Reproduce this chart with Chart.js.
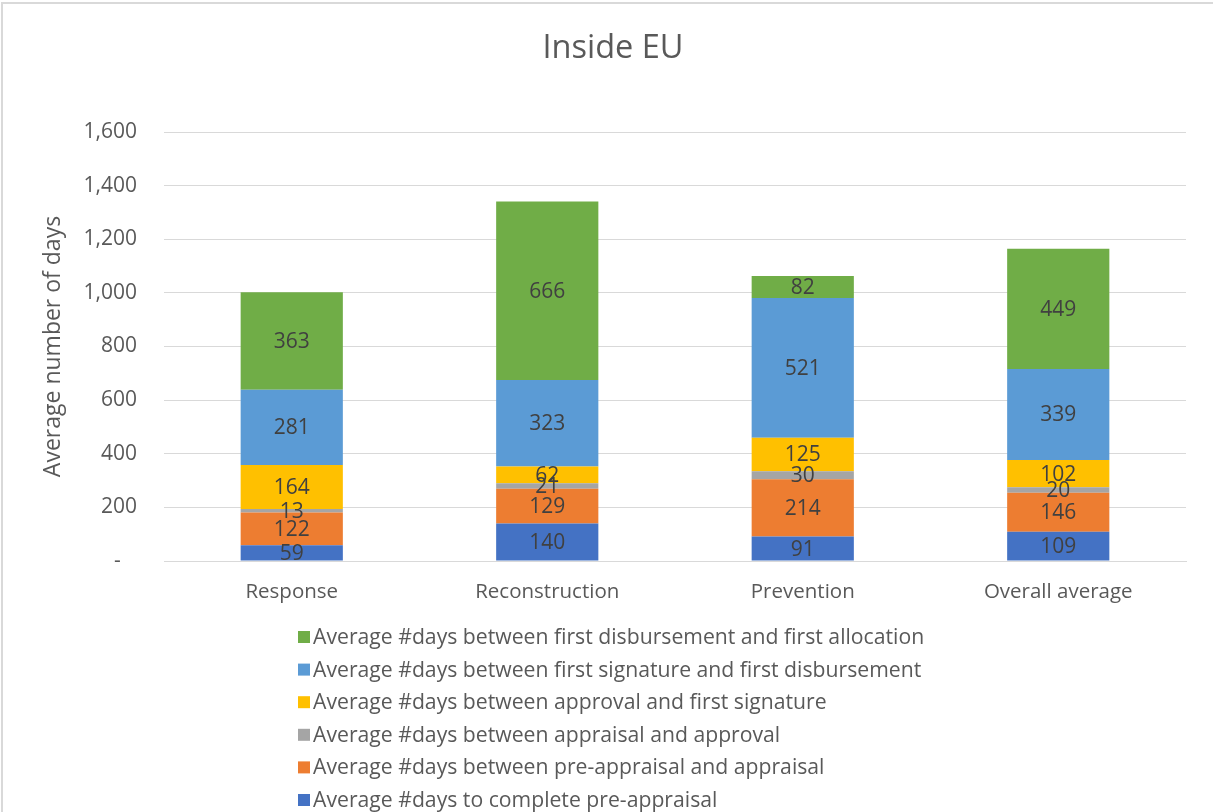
<!DOCTYPE html>
<html>
<head>
<meta charset="utf-8">
<title>Inside EU</title>
<script src="https://cdn.jsdelivr.net/npm/chart.js@4.4.1/dist/chart.umd.min.js"></script>
<style>
  html, body { margin: 0; padding: 0; background: #fff; }
  .frame {
    position: absolute; left: 1px; top: 2px; width: 1212px; height: 810px;
    border-top: 2px solid #d9d9d9; border-left: 2px solid #d9d9d9;
    pointer-events: none;
  }
  #chart { position: absolute; left: 0; top: 0; }
</style>
</head>
<body>
<canvas id="chart" width="1213" height="812"></canvas>
<div class="frame"></div>
<script>
const categories = ['Response', 'Reconstruction', 'Prevention', 'Overall average'];

const preAppraisal = [59, 140, 91, 109];
const preToAppraisal = [122, 129, 214, 146];
const appraisalToApproval = [13, 21, 30, 20];
const approvalToSignature = [164, 62, 125, 102];
const signatureToDisbursement = [281, 323, 521, 339];
const disbursementToAllocation = [363, 666, 82, 449];

// Excel accounting style: zero shows as a dash
const yTickLabels = ['-   ', '200', '400', '600', '800', '1,000', '1,200', '1,400', '1,600'];

const seriesNames = [
  'Average #days to complete pre-appraisal',
  'Average #days between pre-appraisal and appraisal',
  'Average #days between appraisal and approval',
  'Average #days between approval and first signature',
  'Average #days between first signature and first disbursement',
  'Average #days between first disbursement and first allocation'
];
const seriesColors = ['#4472C4', '#ED7D31', '#A5A5A5', '#FFC000', '#5B9BD5', '#70AD47'];
const seriesValues = [preAppraisal, preToAppraisal, appraisalToApproval, approvalToSignature, signatureToDisbursement, disbursementToAllocation];

const FONT = '"Open Sans", Lato, sans-serif';

// value labels in the middle of each segment
const segmentLabels = {
  id: 'segmentLabels',
  afterDatasetsDraw(chart) {
    const ctx = chart.ctx;
    ctx.save();
    ctx.font = '21px ' + FONT;
    ctx.fillStyle = '#404040';
    ctx.textAlign = 'center';
    ctx.textBaseline = 'middle';
    chart.data.datasets.forEach((ds, i) => {
      chart.getDatasetMeta(i).data.forEach((bar, j) => {
        ctx.fillText(String(ds.data[j]), bar.x, (bar.y + bar.base) / 2 + 1);
      });
    });
    ctx.restore();
  }
};

// vertical legend, top entry = last series (like Excel)
const stackedLegend = {
  id: 'stackedLegend',
  afterDraw(chart) {
    const ctx = chart.ctx;
    const x0 = 298, y0 = 637, rowH = 32.6, box = 12;
    ctx.save();
    ctx.font = '21.2px ' + FONT;
    ctx.textBaseline = 'middle';
    ctx.textAlign = 'left';
    const sets = chart.data.datasets.slice().reverse();
    sets.forEach((ds, i) => {
      const y = y0 + i * rowH;
      ctx.fillStyle = ds.backgroundColor;
      ctx.fillRect(x0, y - box / 2, box, box);
      ctx.fillStyle = '#595959';
      ctx.fillText(ds.label, x0 + box + 3, y + 1);
    });
    ctx.restore();
  }
};

const ctx = document.getElementById('chart').getContext('2d');

new Chart(ctx, {
  type: 'bar',
  data: {
    labels: categories,
    datasets: seriesNames.map((name, i) => ({
      label: name,
      data: seriesValues[i],
      backgroundColor: seriesColors[i],
      borderWidth: 0,
      categoryPercentage: 0.4,
      barPercentage: 1
    }))
  },
  options: {
    responsive: false,
    animation: false,
    layout: {
      padding: { top: 0, right: 27, bottom: 201, left: 40 }
    },
    scales: {
      x: {
        stacked: true,
        grid: { display: false, drawTicks: false },
        border: { color: '#d9d9d9', width: 1 },
        ticks: {
          padding: 19,
          color: '#595959',
          font: { family: FONT, size: 20.5 }
        },
        afterFit(scale) { scale.height = 50; }
      },
      y: {
        stacked: true,
        min: 0,
        max: 1600,
        grid: { color: '#d9d9d9', lineWidth: 1, drawTicks: false },
        border: { display: false },
        ticks: {
          stepSize: 200,
          padding: 27,
          color: '#595959',
          font: { family: FONT, size: 21 },
          callback: function(value) {
            return yTickLabels[Math.round(value / 200)];
          }
        },
        title: {
          display: true,
          text: 'Average number of days',
          color: '#595959',
          font: { family: FONT, size: 23 },
          padding: { top: 0, bottom: 0 }
        },
        afterFit(scale) { scale.width = 124; }
      }
    },
    plugins: {
      title: {
        display: true,
        text: 'Inside EU',
        color: '#595959',
        font: { family: FONT, size: 32.5, weight: 'normal' },
        padding: { top: 29, bottom: 64 }
      },
      legend: { display: false },
      tooltip: { enabled: false }
    }
  },
  plugins: [segmentLabels, stackedLegend]
});
</script>
</body>
</html>
